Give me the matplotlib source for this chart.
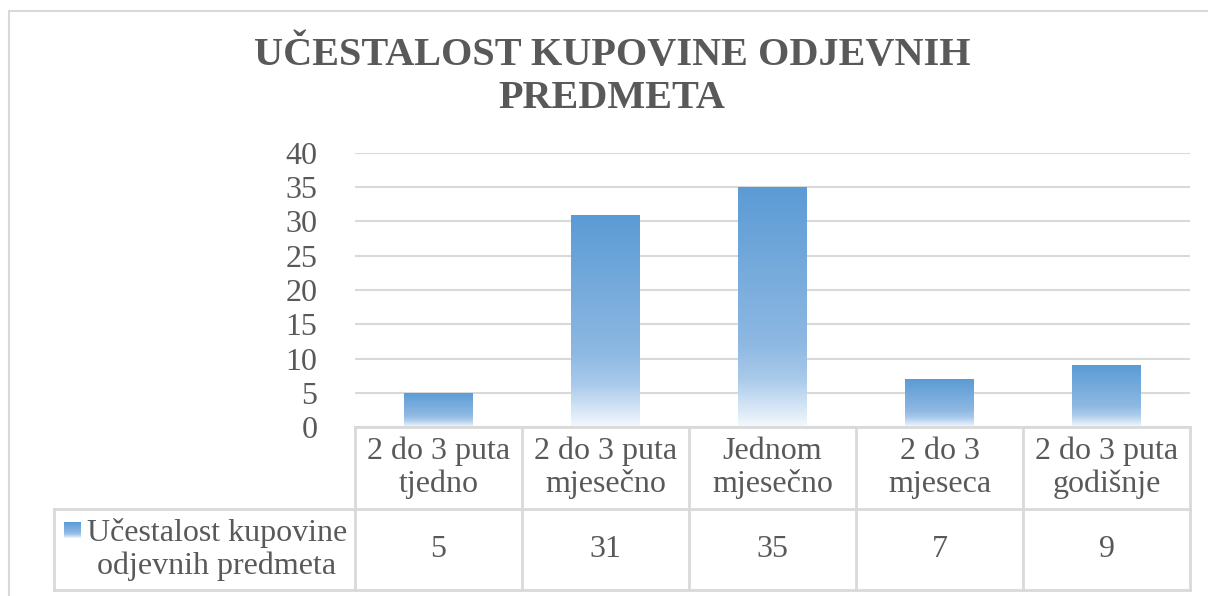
import numpy as np
import matplotlib.pyplot as plt
from matplotlib.colors import LinearSegmentedColormap
from matplotlib.patches import Rectangle
import matplotlib.transforms as mtransforms

# ..data..
categories = ['2 do 3 puta\ntjedno', '2 do 3 puta\nmjesečno', 'Jednom\nmjesečno',
              '2 do 3\nmjeseca', '2 do 3 puta\ngodišnje']
values = [5, 31, 35, 7, 9]
series_name = 'Učestalost kupovine\nodjevnih predmeta'
title = 'UČESTALOST KUPOVINE ODJEVNIH\nPREDMETA'
yticks = [0, 5, 10, 15, 20, 25, 30, 35, 40]

TXT = '#595959'
GRID = '#D9D9D9'
plt.rcParams['font.family'] = 'serif'
plt.rcParams['font.serif'] = ['Liberation Serif', 'Times New Roman', 'DejaVu Serif']

W, H = 1208, 596
fig = plt.figure(figsize=(W / 100, H / 100), dpi=100)

# ..outer chart border..
fig.patches.append(Rectangle((9 / W, -0.1), 1.2, 1.1 - 11 / H, transform=fig.transFigure,
                             fill=False, edgecolor=GRID, lw=1.5))

x0, x1, y0, y1 = 355, 1190, 427, 153
ax = fig.add_axes([x0 / W, 1 - y0 / H, (x1 - x0) / W, (y0 - y1) / H])
ax.set_yticks(yticks)
ax.set_yticklabels([str(t) for t in yticks], fontsize=23, color=TXT)
ax.tick_params(axis='y', length=0, pad=27)
ax.set_xticks([])
for s in ax.spines.values():
    s.set_visible(False)
ax.yaxis.grid(True, color=GRID, lw=1.5)
ax.set_axisbelow(True)

# ..gradient bars..
cmap = LinearSegmentedColormap.from_list('g', [(0, '#F4F8FD'), (0.2, '#A9CAEA'),
                                               (0.35, '#8DB8E2'), (1, '#5B9BD5')])
grad = np.linspace(0, 1, 256).reshape(-1, 1)
bars = ax.bar(range(len(values)), values, width=0.41, color='none', edgecolor='none')
for b in bars:
    bx, by = b.get_x(), b.get_y()
    im = ax.imshow(grad, cmap=cmap, origin='lower', aspect='auto',
                   extent=[bx, bx + b.get_width(), by, by + b.get_height()], zorder=2)
    im.set_clip_path(b)
ax.set_xlim(-0.5, len(values) - 0.5)
ax.set_ylim(0, 40)

# ..title..
fig.text(612 / W, 1 - 77 / H, title, ha='center', va='center', fontsize=29,
         fontweight='bold', color=TXT, linespacing=1.22)

# ..data table..
tr = mtransforms.blended_transform_factory(ax.transData, fig.transFigure)
ftr = fig.transFigure
r0, r1, r2 = 1 - 427 / H, 1 - 509 / H, 1 - 590 / H
n = len(values)
for i in range(n + 1):
    ax.plot([i - 0.5, i - 0.5], [r0, r2], transform=tr, color=GRID, lw=2, clip_on=False)
ax.plot([-0.5, n - 0.5], [r0, r0], transform=tr, color=GRID, lw=2, clip_on=False)
fig.lines.append(plt.Line2D([54 / W, x1 / W], [r1, r1], transform=ftr, color=GRID, lw=2))
fig.lines.append(plt.Line2D([54 / W, x1 / W], [r2, r2], transform=ftr, color=GRID, lw=2))
fig.lines.append(plt.Line2D([54 / W, 54 / W], [r1, r2], transform=ftr, color=GRID, lw=2))
for i, (c, v) in enumerate(zip(categories, values)):
    ax.text(i, (r0 + r1) / 2, c, transform=tr, ha='center', va='center',
            fontsize=23, color=TXT, linespacing=1.15)
    ax.text(i, (r1 + r2) / 2, str(v), transform=tr, ha='center', va='center',
            fontsize=23, color=TXT)

# ..legend key in table..
kax = fig.add_axes([64 / W, 1 - 538 / H, 17 / W, 16 / H])
kax.imshow(grad, cmap=cmap, origin='lower', aspect='auto', extent=[0, 1, 0, 1],
           interpolation='bilinear')
kax.set_xlim(0, 1)
kax.set_ylim(0, 1)
kax.axis('off')
fig.text(217 / W, (r1 + r2) / 2, series_name, ha='center', va='center',
         fontsize=23, color=TXT, linespacing=1.15)

fig.savefig('out.png', dpi=100)
